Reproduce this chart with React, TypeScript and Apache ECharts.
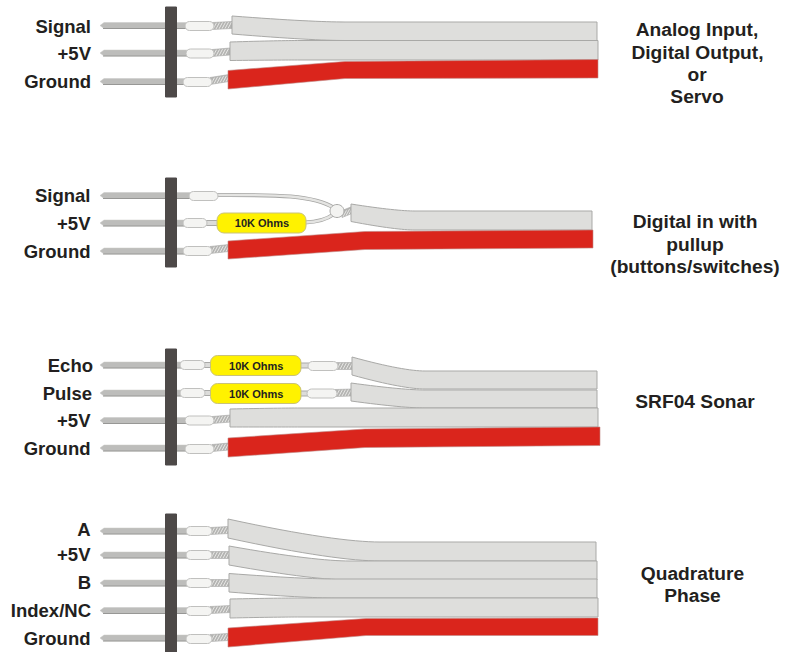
import React, { useEffect, useRef } from "react";
import * as echarts from "echarts";

const WIDTH = 787;
const HEIGHT = 652;

// [x0, x1, yTop, yBottom]
const headerBars = [
  [165.5, 176.5, 7, 97],
  [165.5, 176.5, 178, 267],
  [165.5, 176.5, 349, 465],
  [165.5, 176.5, 514, 652],
];

// [y, xEnd]
const pins = [
  [25.5, 190], [53, 190], [81.5, 188],
  [195.5, 192], [223, 188], [251, 188],
  [365, 185], [393, 185], [420.5, 190], [448, 190],
  [531, 190], [555, 190], [583, 190], [610.5, 190], [638, 190],
];

// [x0, x1, y] sleeves
const sleeves = [
  [185, 214, 26], [186, 214, 53.5], [183, 212, 82],
  [189, 218, 196], [183, 207, 223], [183, 212, 251],
  [180, 205, 365], [180, 205, 393], [185, 214, 420.5], [185, 214, 449],
  [186, 212, 531], [186, 212, 555], [186, 212, 583], [186, 212, 611], [186, 212, 639],
  [308, 338, 366], [307, 337, 393.5],
];

// [x0, y0, x1, y1] stripped braid
const braids = [
  [212, 26, 232, 25], [212, 53, 230, 51.5], [210, 81, 229, 78],
  [210, 250, 229, 248],
  [342, 214, 352, 210],
  [336, 366, 353, 366], [335, 393, 352, 392.5], [212, 420, 231, 418.5], [212, 448, 229, 446.5],
  [210, 531, 229, 530], [210, 555, 230, 555], [210, 583, 230, 583], [210, 610, 231, 609], [210, 638, 229, 637],
];

// [x0, x1, y] short connecting leads
const leads = [
  [205, 218, 223], [204, 212, 365], [204, 212, 393], [300, 310, 365.5], [300, 309, 393.5],
];

// cubic wires [x0, y0, cx1, cy1, cx2, cy2, x1, y1]
const curvedWires = [
  [216, 195, 270, 195, 312, 194, 334, 208],
  [305, 222.5, 318, 222, 326, 220, 334, 214],
];

// resistors [x0, x1, yTop, yBottom]
const resistors = [
  [217, 306, 213, 233],
  [210.5, 301, 355.5, 375.5],
  [210.5, 301, 383.5, 403.5],
];
const resistorLabels = ["10K Ohms", "10K Ohms", "10K Ohms"];

// solder joint [cx, cy, rx, ry]
const joints = [[337, 211, 7, 6.5]];

// grey ribbons [x0, top0, bottom0, xBend, x1, top1, bottom1]
const greyRibbons = [
  [232, 16, 34, 345, 597, 22, 40.5],
  [230, 42, 60.5, 300, 598, 40.5, 60],
  [351, 204, 221.5, 415, 592, 211, 230],
  [352, 357, 375, 425, 597, 371, 389],
  [351, 383, 401, 425, 597, 390, 408],
  [230, 409, 427, 300, 598, 408, 427],
  [228, 519, 538, 380, 596, 542, 561],
  [229, 546, 565, 350, 597, 561, 580],
  [229, 573.5, 592, 335, 597, 579, 598],
  [230, 599, 618, 300, 598, 598, 617],
];

// red ribbons [x0, top0, bottom0, xBend, topBend, bottomBend, x1, top1, bottom1]
const redRibbons = [
  [228, 70.5, 89, 345, 61.5, 78.5, 598, 59.5, 78],
  [228, 241, 259, 365, 231.5, 249.5, 593, 230, 248],
  [228, 438, 457, 365, 429, 447.5, 600, 427, 445.5],
  [228, 628, 647, 366, 618.5, 635.5, 598, 618, 635.5],
];

// [text, xRight, y]
const pinLabels: [string, number, number][] = [
  ["Signal", 91, 26], ["+5V", 91, 53], ["Ground", 91, 81],
  ["Signal", 90.5, 195], ["+5V", 90.5, 223], ["Ground", 90.5, 251],
  ["Echo", 93, 365], ["Pulse", 92, 393], ["+5V", 90.5, 420], ["Ground", 90.5, 448],
  ["A", 90.5, 529], ["+5V", 90.5, 554], ["B", 91, 582], ["Index/NC", 91, 610], ["Ground", 90.5, 638],
];

// [text, xCentre, y]
const captionLines: [string, number, number][] = [
  ["Analog Input,", 697, 29.5], ["Digital Output,", 697.5, 52], ["or", 697, 74], ["Servo", 697, 96],
  ["Digital in with", 695, 221], ["pullup", 695, 244], ["(buttons/switches)", 695, 266],
  ["SRF04 Sonar", 695, 401],
  ["Quadrature", 692.5, 573.5], ["Phase", 692.5, 595.5],
];

const FONT = '"Liberation Sans", Arial, sans-serif';
const INK = "#231f20";

const fmt = (api: any, x: number, y: number) =>
  api.coord([x, y]).map((v: number) => v.toFixed(2)).join(" ");

function greyPath(api: any, r: number[]) {
  const [x0, t0, b0, xb, x1, t1, b1] = r;
  const p = (x: number, y: number) => fmt(api, x, y);
  const c1 = (y0: number, y1: number) => p(x0 + (xb - x0) * 0.5, y0 + (y1 - y0) * 0.72);
  const c2 = (y1: number) => p(xb - (xb - x0) * 0.18, y1);
  return (
    `M ${p(x0, t0)} C ${c1(t0, t1)} ${c2(t1)} ${p(xb, t1)} L ${p(x1, t1)} L ${p(x1, b1)} ` +
    `L ${p(xb, b1)} C ${c2(b1)} ${c1(b0, b1)} ${p(x0, b0)} Z`
  );
}

function redPath(api: any, r: number[]) {
  const [x0, t0, b0, xb, tb, bb, x1, t1, b1] = r;
  const p = (x: number, y: number) => fmt(api, x, y);
  return `M ${p(x0, t0)} L ${p(xb, tb)} L ${p(x1, t1)} L ${p(x1, b1)} L ${p(xb, bb)} L ${p(x0, b0)} Z`;
}

function layer(rows: any[], draw: (row: any, api: any) => any, z = 2) {
  return {
    type: "custom",
    coordinateSystem: "cartesian2d",
    silent: true,
    clip: false,
    z,
    data: rows.map((_, i) => [i, 0]),
    renderItem: (params: any, api: any) => draw(rows[params.dataIndex], api),
  };
}

function textItem(api: any, text: string, x: number, y: number, align: string, size: number) {
  const [px, py] = api.coord([x, y]);
  return {
    type: "text",
    style: {
      text, x: px, y: py, fill: INK, align, verticalAlign: "middle",
      fontFamily: FONT, fontWeight: "bold", fontSize: size,
    },
  };
}

function rectItem(api: any, x0: number, x1: number, y0: number, y1: number, r: number, fill: string, stroke: string) {
  const [a, b] = api.coord([x0, y0]);
  const [c, d] = api.coord([x1, y1]);
  return {
    type: "rect",
    shape: { x: a, y: b, width: c - a, height: d - b, r },
    style: { fill, stroke, lineWidth: 1 },
  };
}

function buildOption() {
  return {
    animation: false,
    backgroundColor: "#ffffff",
    grid: { left: 0, right: 0, top: 0, bottom: 0 },
    xAxis: { type: "value", min: 0, max: WIDTH, show: false },
    yAxis: { type: "value", min: 0, max: HEIGHT, inverse: true, show: false },
    tooltip: { show: false },
    series: [
      layer(pins, ([y, xEnd], api) => {
        const p = (x: number, v: number) => api.coord([x, v]);
        return {
          type: "group",
          children: [
            {
              type: "polygon",
              shape: { points: [p(100, y), p(104, y - 3), p(xEnd, y - 3), p(xEnd, y + 3), p(104, y + 3)] },
              style: { fill: "#bdbdbb", stroke: "#c8c8c6", lineWidth: 0.5 },
            },
            {
              type: "line",
              shape: { x1: p(103, y)[0], y1: p(103, y + 3)[1], x2: p(xEnd, y)[0], y2: p(xEnd, y + 3)[1] },
              style: { stroke: "#979795", lineWidth: 1 },
            },
          ],
        };
      }),
      layer(braids, ([x0, y0, x1, y1], api) => {
        const p = (x: number, v: number) => api.coord([x, v]);
        const children: any[] = [
          {
            type: "polygon",
            shape: { points: [p(x0, y0 - 3.5), p(x1, y1 - 3.5), p(x1, y1 + 3.5), p(x0, y0 + 3.5)] },
            style: { fill: "#b4b4b2", stroke: "#a9a9a7", lineWidth: 0.6 },
          },
        ];
        for (let x = x0 + 1; x < x1 - 2; x += 3) {
          const y = y0 + ((y1 - y0) * (x - x0)) / (x1 - x0);
          const a = p(x, y + 3.2);
          const b = p(x + 3.5, y - 3.2);
          children.push({
            type: "line",
            shape: { x1: a[0], y1: a[1], x2: b[0], y2: b[1] },
            style: { stroke: "#e8e8e6", lineWidth: 1 },
          });
        }
        return { type: "group", children };
      }),
      layer(leads, ([x0, x1, y], api) => rectItem(api, x0, x1, y - 2.5, y + 2.5, 0, "#dcdcda", "#a9a9a7")),
      layer(curvedWires, (w, api) => {
        const p = (i: number) => api.coord([w[i], w[i + 1]]);
        const shape = () => {
          const [a, b, c, d] = [p(0), p(2), p(4), p(6)];
          return { x1: a[0], y1: a[1], cpx1: b[0], cpy1: b[1], cpx2: c[0], cpy2: c[1], x2: d[0], y2: d[1] };
        };
        return {
          type: "group",
          children: [
            { type: "bezierCurve", shape: shape(), style: { fill: "none", stroke: "#a6a6a4", lineWidth: 4 } },
            { type: "bezierCurve", shape: shape(), style: { fill: "none", stroke: "#e4e4e2", lineWidth: 2.4 } },
          ],
        };
      }),
      layer(headerBars, ([x0, x1, y0, y1], api) => rectItem(api, x0, x1, y0, y1, 0, "#4d4948", "#4d4948")),
      layer(sleeves, ([x0, x1, y], api) => rectItem(api, x0, x1, y - 4.5, y + 4.5, 4.5, "#f4f4f2", "#c0c0be")),
      layer(joints, ([cx, cy, rx, ry], api) => {
        const [a, b] = api.coord([cx, cy]);
        return {
          type: "ellipse",
          shape: { cx: a, cy: b, rx, ry },
          style: { fill: "#f3f3f1", stroke: "#a9a9a7", lineWidth: 1 },
        };
      }),
      layer(resistors, ([x0, x1, y0, y1], api) => rectItem(api, x0, x1, y0, y1, 7, "#fff200", "#c9c27a")),
      layer(greyRibbons, (r, api) => ({
        type: "path",
        shape: { pathData: greyPath(api, r) },
        style: { fill: "#dededc", stroke: "#a9a9a7", lineWidth: 1 },
      })),
      layer(redRibbons, (r, api) => ({
        type: "path",
        shape: { pathData: redPath(api, r) },
        style: { fill: "#da251c", stroke: "#c08a86", lineWidth: 0.6 },
      })),
      layer(
        resistors.map((r, i) => [resistorLabels[i], (r[0] + r[1]) / 2 + 0.5, (r[2] + r[3]) / 2]),
        ([t, x, y], api) => textItem(api, t, x, y, "center", 11),
        3
      ),
      layer(pinLabels, ([t, x, y], api) => textItem(api, t, x, y, "right", 18.5), 3),
      layer(captionLines, ([t, x, y], api) => textItem(api, t, x, y, "center", 19.2), 3),
    ],
  };
}

export default function App() {
  const ref = useRef<HTMLDivElement>(null);
  useEffect(() => {
    const chart = echarts.init(ref.current as HTMLDivElement, undefined, { renderer: "svg" });
    chart.setOption(buildOption() as any);
    return () => chart.dispose();
  }, []);
  return <div ref={ref} style={{ position: "absolute", left: 0, top: 0, width: WIDTH, height: HEIGHT }} />;
}
